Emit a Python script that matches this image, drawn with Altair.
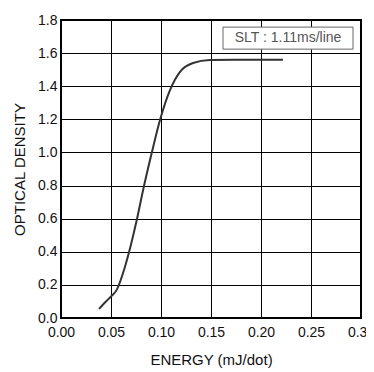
import altair as alt
import pandas as pd

energy = [0.038, 0.045, 0.050, 0.0557, 0.064, 0.0757, 0.082, 0.0907, 0.099, 0.109, 0.119, 0.132, 0.149, 0.175, 0.200, 0.222]
density = [0.055, 0.10, 0.13, 0.17, 0.31, 0.59, 0.77, 0.996, 1.196, 1.377, 1.487, 1.54, 1.558, 1.56, 1.56, 1.56]

x_ticks = [0.00, 0.05, 0.10, 0.15, 0.20, 0.25, 0.30]
y_ticks = [0.0, 0.2, 0.4, 0.6, 0.8, 1.0, 1.2, 1.4, 1.6, 1.8]

note_text = ["SLT : 1.11ms/line"]
note_box_x = [0.162, 0.292]
note_box_y = [1.624, 1.757]

curve = pd.DataFrame({"e": energy, "d": density})
box = pd.DataFrame({"x1": [note_box_x[0]], "x2": [note_box_x[1]], "y1": [note_box_y[0]], "y2": [note_box_y[1]]})
txt = pd.DataFrame({"x": [(note_box_x[0] + note_box_x[1]) / 2], "y": [(note_box_y[0] + note_box_y[1]) / 2], "t": note_text})

xs = alt.Scale(domain=[0, 0.3], nice=False)
ys = alt.Scale(domain=[0, 1.8], nice=False)

xax = alt.Axis(values=x_ticks, format=".2f", title="ENERGY (mJ/dot)", ticks=False, domain=False,
               labelPadding=7, titlePadding=13, grid=True, labelOverlap=False, labelFlush=False)
yax = alt.Axis(values=y_ticks, format=".1f", title="OPTICAL DENSITY", ticks=False, domain=False,
               labelPadding=4, titlePadding=10, grid=True, labelOverlap=False, labelFlush=False)

line = alt.Chart(curve).mark_line(color="#333333", strokeWidth=2, interpolate="monotone").encode(
    x=alt.X("e:Q", scale=xs, axis=xax),
    y=alt.Y("d:Q", scale=ys, axis=yax),
)

rect = alt.Chart(box).mark_rect(fill="white", stroke="#666666", strokeWidth=1).encode(
    x=alt.X("x1:Q", scale=xs, axis=xax), x2="x2", y=alt.Y("y1:Q", scale=ys, axis=yax), y2="y2"
)

label = alt.Chart(txt).mark_text(font="Liberation Sans", fontSize=14, color="#555555").encode(
    x=alt.X("x:Q", scale=xs, axis=xax), y=alt.Y("y:Q", scale=ys, axis=yax), text="t:N"
)

chart = alt.layer(line, rect, label).properties(
    width=300, height=298,
    background="white",
    autosize=alt.AutoSizeParams(type="none"),
    padding={"left": 53, "top": 12, "right": 5, "bottom": 50},
).configure_view(stroke="black", strokeWidth=2).configure_axis(
    gridColor="black", gridWidth=1, gridOpacity=1,
    labelFont="Liberation Sans", labelFontSize=14, labelColor="#111111",
    titleFont="Liberation Sans", titleFontSize=15, titleFontWeight="normal", titleColor="#111111",
)

chart.save("out.html", embed_options={"renderer": "svg", "actions": False})
